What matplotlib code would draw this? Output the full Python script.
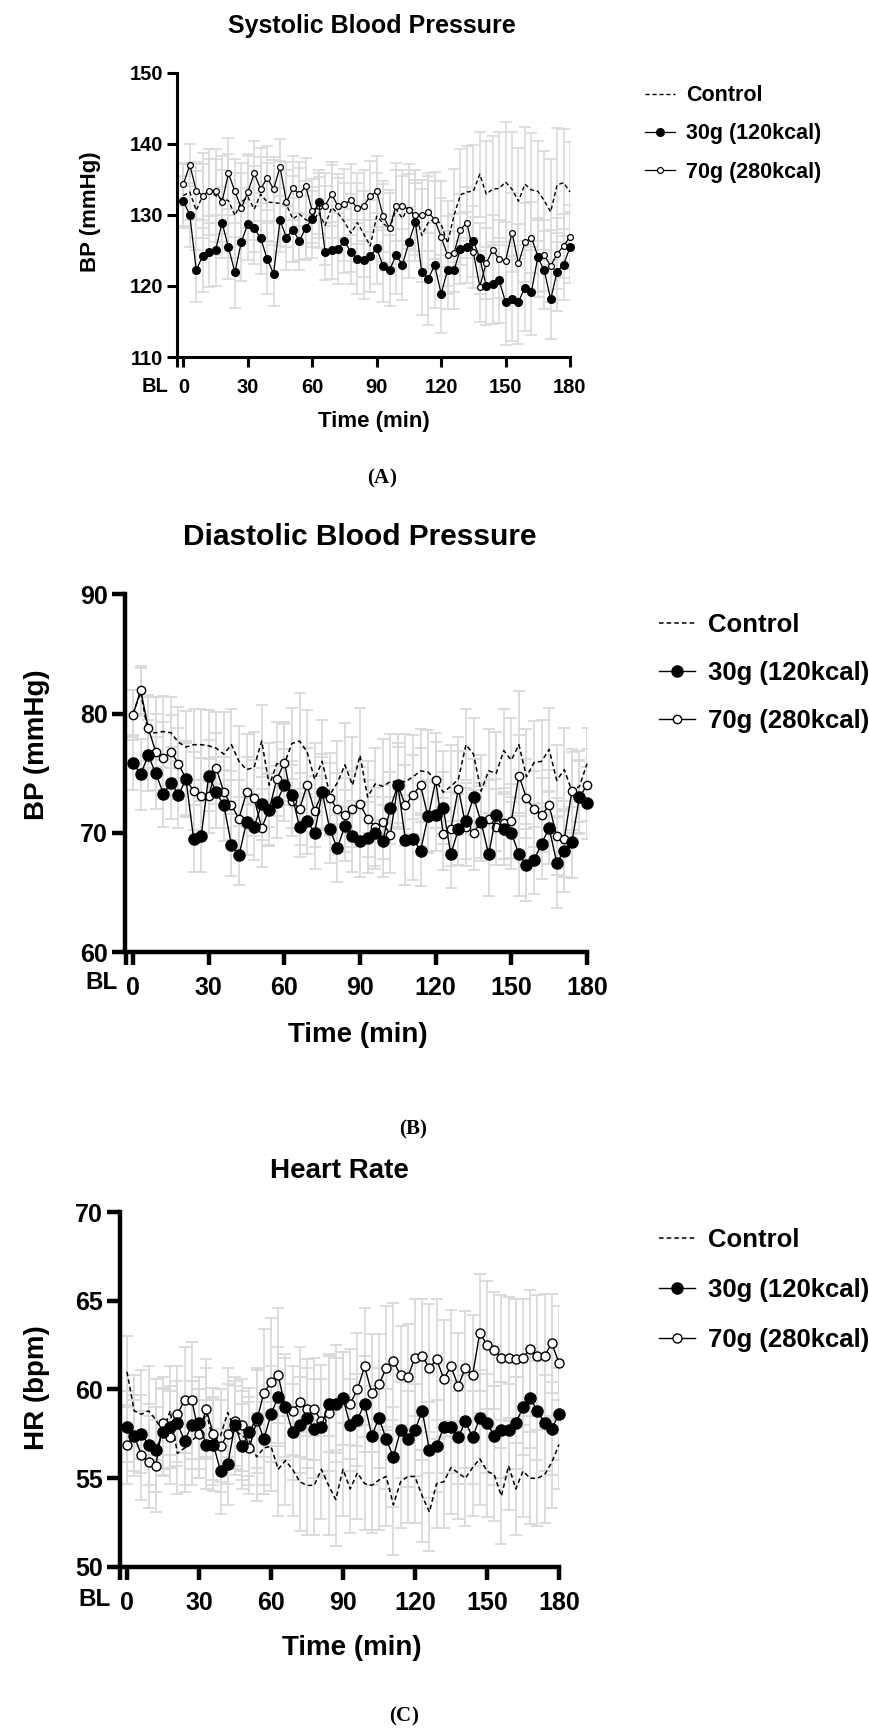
import matplotlib.pyplot as plt

plt.rcParams['font.family'] = ['Liberation Sans', 'DejaVu Sans']
plt.rcParams['font.weight'] = 'bold'
plt.rcParams['mathtext.fontset'] = 'custom'
plt.rcParams['mathtext.rm'] = 'Liberation Serif'
plt.rcParams['mathtext.bf'] = 'Liberation Serif:bold'

# sampling times (min), every 3 min
time = list(range(0, 181, 3))
xticks = [0, 30, 60, 90, 120, 150, 180]

# (A) systolic blood pressure
sbp_ctrl = [132.7, 133.2, 130.6, 132.7, 133.2, 132.7, 132.2, 132.0, 129.9, 131.8, 132.5, 130.8, 132.9, 131.8, 131.7, 131.6,
            131.4, 129.4, 130.1, 129.3, 128.9, 130.3, 128.5, 131.0, 130.2, 129.0, 127.4, 128.9, 127.3, 125.6, 129.8,
            128.8, 128.0, 130.8, 129.5, 131.2, 130.3, 127.1, 128.9, 129.5, 128.7, 126.0, 129.9, 132.8, 133.2, 133.3,
            135.7, 132.9, 133.6, 133.7, 134.6, 133.6, 131.9, 134.3, 133.5, 133.3, 132.0, 130.4, 134.2, 134.5, 133.2]
sbp_30g = [131.9, 130.0, 122.2, 124.2, 124.8, 125.0, 128.9, 125.4, 121.9, 126.2, 128.7, 128.1, 126.7, 123.8, 121.7, 129.2,
           126.8, 127.9, 126.3, 128.2, 129.4, 131.8, 124.8, 125.0, 125.2, 126.3, 124.7, 123.8, 123.7, 124.2, 125.3,
           122.8, 122.2, 124.3, 123.0, 126.1, 129.0, 121.9, 121.0, 122.9, 118.9, 122.2, 122.2, 125.2, 125.4, 126.3,
           123.9, 120.0, 120.2, 120.8, 117.7, 118.2, 117.8, 119.7, 119.1, 124.0, 122.2, 118.1, 122.0, 123.0, 125.4]
sbp_70g = [134.3, 137.0, 133.4, 132.7, 133.4, 133.4, 131.8, 135.8, 133.3, 130.9, 133.2, 135.8, 133.6, 135.2, 133.6, 136.7,
           131.8, 133.7, 132.9, 134.0, 130.5, 131.3, 131.3, 132.9, 131.2, 131.5, 132.1, 130.9, 131.3, 132.6, 133.3,
           129.8, 128.1, 131.3, 131.3, 130.7, 129.9, 129.9, 130.4, 129.3, 126.9, 124.3, 124.6, 127.9, 128.9, 124.7,
           119.9, 123.2, 125.0, 123.8, 123.5, 127.5, 123.2, 126.1, 126.8, 124.2, 124.3, 122.8, 124.5, 125.6, 126.9]
sbp_ctrl_err = [4.5, 4.0, 5.5, 6.0, 6.0, 6.5, 6.0, 6.5, 6.0, 5.5, 6.0, 6.0, 6.5, 5.5, 6.0, 6.0, 6.0, 6.0, 6.5, 5.5,
                5.0, 5.0, 5.5, 6.0, 5.0, 5.5, 5.5, 5.5, 6.0, 6.5, 6.0,
                5.5, 5.5, 6.5, 6.0, 6.0, 6.0, 6.5, 6.5, 6.5, 6.0, 6.0, 6.5, 6.5, 6.5, 6.5, 6.0, 7.5, 7.5, 8.0, 8.5,
                8.0, 7.5, 8.0, 8.0, 7.0, 7.0, 7.5, 8.0, 7.5, 7.0]
sbp_30g_err = [3.5, 4.5, 4.5, 5.0, 5.0, 5.0, 5.0, 4.5, 5.0, 5.5, 5.0, 5.0, 5.0, 5.0, 4.5, 4.5, 4.5, 4.5, 4.0, 4.5,
               4.0, 4.5, 4.0, 4.0, 5.0, 4.5, 4.5, 5.0, 5.5, 5.0, 5.0,
               5.0, 5.0, 5.5, 5.0, 5.0, 5.5, 6.0, 6.5, 6.0, 5.5, 5.5, 5.5, 5.0, 5.0, 5.0, 5.0, 5.5, 5.5, 6.0, 6.0,
               6.0, 6.0, 6.0, 6.0, 5.5, 5.5, 5.5, 5.5, 5.0, 5.0]
sbp_70g_err = [3.0, 3.0, 4.0, 4.5, 4.5, 4.5, 4.5, 5.0, 4.5, 5.0, 5.0, 4.5, 4.5, 4.5, 4.5, 4.0, 4.5, 4.5, 4.5, 4.0,
               4.5, 4.5, 4.5, 4.5, 4.5, 5.0, 5.0, 5.0, 5.0, 5.0, 5.0,
               5.0, 5.0, 5.0, 5.0, 5.0, 5.0, 5.0, 5.5, 5.5, 5.5, 5.5, 5.5, 5.0, 5.0, 5.0, 5.0, 5.0, 5.0, 5.5, 5.5,
               5.5, 5.5, 5.5, 5.0, 5.0, 5.0, 5.0, 5.0, 4.5, 4.5]

# (B) diastolic blood pressure
dbp_ctrl = [80.0, 81.8, 78.4, 78.4, 78.5, 78.4, 77.6, 77.2, 77.4, 77.4, 77.3, 77.1, 76.6, 77.4, 76.0, 75.3, 75.5, 77.7,
            74.0, 75.8, 75.8, 77.5, 77.7, 76.8, 74.5, 76.0, 73.2, 74.2, 75.7, 74.0, 76.5,
            73.0, 74.1, 73.9, 74.3, 74.3, 74.3, 74.7, 75.2, 75.1, 74.4, 73.4, 73.9, 74.5, 77.4, 76.6, 73.5, 75.2,
            75.0, 76.9, 76.1, 77.4, 74.7, 75.9, 76.0, 77.0, 74.4, 75.3, 73.5, 73.9, 75.8]
dbp_30g = [75.9, 74.9, 76.5, 75.0, 73.3, 74.2, 73.2, 74.5, 69.5, 69.7, 74.8, 73.4, 72.3, 69.0, 68.1, 70.9, 70.5, 72.4,
           71.9, 72.6, 74.0, 73.2, 70.5, 71.0, 70.0, 73.4, 70.3, 68.7, 70.6, 69.7, 69.3,
           69.6, 70.0, 69.3, 72.1, 74.0, 69.4, 69.5, 68.5, 71.4, 71.5, 72.1, 68.2, 70.3, 71.0, 73.0, 70.9, 68.2,
           71.5, 70.3, 70.0, 68.2, 67.3, 67.7, 69.1, 70.4, 67.5, 68.5, 69.2, 73.0, 72.5]
dbp_70g = [79.9, 82.0, 78.8, 76.8, 76.3, 76.8, 75.8, 74.5, 73.5, 73.1, 73.1, 75.4, 73.4, 72.3, 71.2, 73.4, 72.9, 70.4,
           72.0, 74.5, 75.9, 72.7, 72.0, 74.0, 71.8, 73.4, 72.9, 72.0, 71.5, 72.0, 72.4,
           71.2, 70.5, 70.9, 69.8, 74.0, 72.3, 73.2, 74.0, 71.3, 74.4, 69.9, 70.3, 73.7, 70.5, 70.0, 70.9, 71.2,
           70.5, 70.8, 71.0, 74.8, 72.9, 72.0, 71.5, 72.3, 69.7, 69.5, 73.5, 73.0, 74.0]
dbp_ctrl_err = [2.0, 2.0, 3.0, 3.0, 3.0, 3.0, 3.0, 3.0, 3.0, 3.0, 3.0, 3.0, 3.5, 3.0, 3.0, 3.0, 3.0, 3.0, 3.5, 3.5,
                3.5, 3.0, 4.0, 3.5, 3.0, 3.5, 3.5, 3.5, 3.5, 4.0, 4.0,
                3.0, 3.0, 4.0, 4.0, 4.0, 4.0, 3.5, 3.5, 3.5, 4.0, 3.5, 3.5, 3.5, 3.0, 3.0, 3.0, 3.5, 3.5, 3.5, 3.5,
                4.5, 4.0, 3.5, 3.5, 3.5, 3.0, 3.5, 3.5, 3.0, 3.0]
dbp_30g_err = [2.3, 3.0, 3.0, 3.0, 2.8, 3.0, 2.8, 3.0, 2.8, 3.0, 3.0, 3.0, 3.0, 2.6, 2.5, 2.8, 2.8, 3.0, 3.0, 3.0,
               3.0, 2.8, 2.5, 2.8, 3.0, 3.0, 2.8, 2.8, 3.0, 3.0, 3.0,
               3.0, 3.0, 3.0, 3.0, 3.5, 3.8, 3.5, 3.0, 3.0, 3.0, 3.0, 2.8, 3.0, 3.2, 3.2, 3.3, 3.5, 3.0, 3.0, 3.0,
               3.5, 3.0, 2.8, 3.0, 3.0, 3.8, 3.5, 3.0, 3.0, 3.0]
dbp_70g_err = [2.1, 2.0, 2.8, 3.2, 3.0, 3.1, 3.0, 3.2, 3.3, 3.2, 3.1, 3.0, 3.0, 2.9, 3.2, 3.0, 3.2, 3.3, 3.0, 3.1,
               3.2, 3.0, 3.0, 3.1, 3.0, 3.2, 3.0, 3.0, 3.1, 3.2, 3.1,
               3.2, 3.3, 3.1, 3.2, 3.2, 3.4, 3.3, 3.1, 3.0, 3.2, 3.0, 3.1, 3.2, 3.3, 3.1, 3.0, 3.2, 3.2, 3.0, 3.1,
               3.4, 3.3, 3.2, 3.1, 3.0, 3.2, 3.2, 3.3, 3.1, 3.0]

# (C) heart rate
hr_ctrl = [61.0, 58.8, 58.6, 58.8, 58.3, 57.6, 58.8, 56.4, 56.7, 57.1, 57.5, 58.7, 57.1, 57.4, 58.7, 57.7, 57.4, 57.1,
           56.2, 56.7, 56.8, 55.5, 56.0, 55.5, 54.8, 54.6, 54.6, 55.5, 54.6, 53.8, 55.5,
           54.4, 55.3, 54.7, 54.6, 54.9, 55.1, 53.5, 54.8, 55.1, 55.1, 54.0, 53.1, 54.7, 54.8, 55.6, 55.3, 55.0,
           55.6, 56.1, 55.4, 55.2, 54.0, 55.7, 54.4, 55.4, 55.0, 55.0, 55.2, 55.9, 56.9]
hr_30g = [57.9, 57.4, 57.5, 56.9, 56.6, 57.6, 57.9, 58.1, 57.1, 58.0, 58.1, 56.9, 56.9, 55.4, 55.8, 58.0, 56.8, 57.6,
          58.4, 57.2, 58.6, 59.6, 59.0, 57.6, 58.0, 58.4, 57.8, 57.9, 59.2, 59.2, 59.5,
          58.0, 58.3, 59.2, 57.4, 58.4, 57.2, 56.2, 57.7, 57.2, 57.7, 58.8, 56.6, 56.8, 57.9, 57.9, 57.3, 58.2,
          57.3, 58.4, 58.1, 57.4, 57.7, 57.7, 58.1, 59.0, 59.5, 58.8, 58.1, 57.8, 58.6]
hr_70g = [56.9, 57.4, 56.3, 55.9, 55.7, 58.1, 57.3, 58.6, 59.4, 59.4, 57.5, 58.9, 57.5, 56.8, 57.5, 58.2, 58.0, 56.7,
          58.2, 59.8, 60.4, 60.8, 59.0, 58.8, 59.3, 58.9, 58.9, 58.2, 58.7, 59.2, 59.5,
          59.2, 60.0, 61.3, 59.8, 60.3, 61.2, 61.6, 60.8, 60.7, 61.8, 61.9, 61.2, 61.7, 60.6, 61.3, 60.2, 61.2,
          60.8, 63.2, 62.5, 62.2, 61.8, 61.8, 61.7, 61.8, 62.3, 61.9, 61.9, 62.6, 61.5]
hr_ctrl_err = [2.0, 2.0, 2.5, 2.5, 2.3, 2.5, 2.5, 2.3, 2.5, 2.5, 2.5, 2.5, 2.5, 2.6, 2.5, 2.5, 2.5, 2.5, 2.5, 2.6,
               2.5, 2.6, 2.5, 2.6, 2.8, 2.8, 2.8, 2.8, 2.8, 2.6, 2.6,
               2.5, 2.6, 2.6, 2.7, 2.8, 2.8, 2.8, 2.6, 2.6, 2.6, 2.6, 2.2, 2.5, 2.6, 2.6, 2.6, 2.7, 2.7, 2.6, 2.6,
               2.6, 2.7, 2.5, 2.6, 2.6, 2.6, 2.7, 2.7, 2.6, 2.5]
hr_30g_err = [2.0, 2.0, 2.2, 2.3, 2.4, 2.4, 2.3, 2.4, 2.5, 2.5, 2.6, 2.5, 2.6, 2.4, 2.3, 2.5, 2.4, 2.5, 2.8, 2.6,
              2.7, 2.8, 2.8, 2.7, 2.7, 2.8, 2.8, 2.7, 2.7, 2.6, 2.6,
              2.6, 2.6, 2.7, 2.8, 2.8, 2.8, 2.8, 2.7, 2.7, 2.6, 2.8, 2.7, 2.6, 2.6, 2.6, 2.6, 2.6, 2.6, 2.7, 2.8,
              2.8, 2.7, 2.6, 2.6, 2.7, 2.8, 2.8, 2.7, 2.6, 2.6]
hr_70g_err = [2.2, 2.3, 2.5, 2.6, 2.6, 2.6, 2.6, 2.7, 3.0, 3.3, 2.5, 2.8, 2.6, 2.6, 2.8, 2.5, 2.6, 2.6, 2.9, 3.6,
              3.6, 3.8, 3.0, 2.5, 3.1, 2.8, 2.9, 3.2, 3.3, 3.3, 2.6,
              3.1, 3.2, 3.3, 3.3, 2.8, 3.5, 3.3, 2.8, 3.0, 3.3, 3.2, 3.6, 3.4, 3.3, 3.2, 3.0, 3.2, 3.4, 3.3, 3.6,
              3.3, 3.5, 3.4, 3.4, 3.3, 3.3, 3.4, 3.5, 2.8, 3.2]

W, H = 870, 1735
fig = plt.figure(figsize=(W / 100, H / 100), dpi=100)


def fx(x):
    return x / W


def fy(y):
    return 1 - y / H


def panel(box, ctrl, g30, g70, e_ctrl, e30, e70, ylim, yticks, xleft, s):
    # box = (spine x, right x, top y, bottom y) in pixels
    x0, x1, y0, y1 = box
    ax = fig.add_axes([fx(x0), fy(y1), (x1 - x0) / W, (y1 - y0) / H])
    for y, e in ((ctrl, e_ctrl), (g70, e70), (g30, e30)):
        ax.errorbar(time, y, yerr=e, fmt='none', ecolor='#d9d9d9', elinewidth=s['elw'],
                    capsize=s['cap'], capthick=s['elw'], zorder=1)
    l_ctrl, = ax.plot(time, ctrl, color='black', lw=s['dlw'], ls=(0, (3, 2)), zorder=2, clip_on=False)
    l_70, = ax.plot(time, g70, color='black', lw=s['lw'], marker='o', ms=s['ms_open'], mfc='white',
                    mec='black', mew=s['mew'], zorder=3, clip_on=False)
    l_30, = ax.plot(time, g30, color='black', lw=s['lw'], marker='o', ms=s['ms_fill'], mfc='black',
                    mec='black', zorder=4, clip_on=False)
    ax.set_xlim(xleft, 180)
    ax.set_ylim(*ylim)
    ax.set_xticks([xleft] + xticks)
    ax.set_xticklabels([''] + [str(v) for v in xticks])
    ax.set_yticks(yticks)
    for side in ('top', 'right'):
        ax.spines[side].set_visible(False)
    for side in ('left', 'bottom'):
        ax.spines[side].set_linewidth(s['spw'])
    ax.tick_params(width=s['spw'], length=s['tl'], labelsize=s['tfs'])
    ax.tick_params(axis='x', pad=s['xpad'])
    ax.tick_params(axis='y', pad=s['ypad'])
    ax.legend([l_ctrl, l_30, l_70], ['Control', '30g (120kcal)', '70g (280kcal)'],
              loc='center left', bbox_to_anchor=(fx(s['leg'][0]), fy(s['leg'][1])),
              bbox_transform=fig.transFigure, frameon=False, fontsize=s['lfs'],
              handlelength=1.4, handletextpad=0.5, labelspacing=s['lsp'], borderpad=0, borderaxespad=0)
    return ax


styles = {
    'A': dict(elw=1.2, cap=4, dlw=1.0, lw=0.9, ms_open=4.2, ms_fill=5.5, mew=0.9, spw=2.2, tl=7,
              tfs=14.5, xpad=8, ypad=3, lfs=15.5, lsp=0.8, leg=(645, 134)),
    'B': dict(elw=1.3, cap=4.5, dlw=1.1, lw=1.0, ms_open=6, ms_fill=8, mew=1.0, spw=3.2, tl=9.5,
              tfs=18, xpad=8, ypad=3, lfs=18.5, lsp=0.95, leg=(659, 673)),
    'C': dict(elw=1.3, cap=4.5, dlw=1.1, lw=1.0, ms_open=6.5, ms_fill=8, mew=1.0, spw=3.2, tl=9.5,
              tfs=18, xpad=8, ypad=3, lfs=18.5, lsp=1.0, leg=(659, 1290)),
}

panel((176.7, 570, 72.5, 357), sbp_ctrl, sbp_30g, sbp_70g, sbp_ctrl_err, sbp_30g_err, sbp_70g_err,
      (110, 150), [110, 120, 130, 140, 150], -3.1, styles['A'])
panel((125.5, 587, 594.5, 952), dbp_ctrl, dbp_30g, dbp_70g, dbp_ctrl_err, dbp_30g_err, dbp_70g_err,
      (60, 90), [60, 70, 80, 90], -3.0, styles['B'])
panel((120, 559, 1212, 1567), hr_ctrl, hr_30g, hr_70g, hr_ctrl_err, hr_30g_err, hr_70g_err,
      (50, 70), [50, 55, 60, 65, 70], -2.9, styles['C'])

# titles, axis labels, BL marks and panel letters
texts = [
    ('Systolic Blood Pressure', 372, 26, 18, 0),
    ('BP (mmHg)', 91, 212, 16, 90),
    ('Time (min)', 374, 421, 16, 0),
    ('BL', 155, 386, 14.5, 0),
    ('Diastolic Blood Pressure', 360, 537, 21.5, 0),
    ('BP (mmHg)', 37, 745, 20, 90),
    ('Time (min)', 358, 1035, 20, 0),
    ('BL', 102, 982, 17.5, 0),
    ('Heart Rate', 339, 1171, 20, 0),
    ('HR (bpm)', 37, 1388, 20, 90),
    ('Time (min)', 352, 1648, 20, 0),
    ('BL', 95, 1599, 17.5, 0),
]
for s, x, y, size, rot in texts:
    fig.text(fx(x), fy(y), s, ha='center', va='center', fontsize=size, fontweight='bold', rotation=rot)

for letter, x, y in (('A', 382, 478), ('B', 413, 1129), ('C', 404, 1716)):
    fig.text(fx(x), fy(y), r'$\mathrm{(}\mathbf{' + letter + r'}\mathrm{)}$', ha='center', va='center', fontsize=15)

fig.savefig('out.png', dpi=100)
